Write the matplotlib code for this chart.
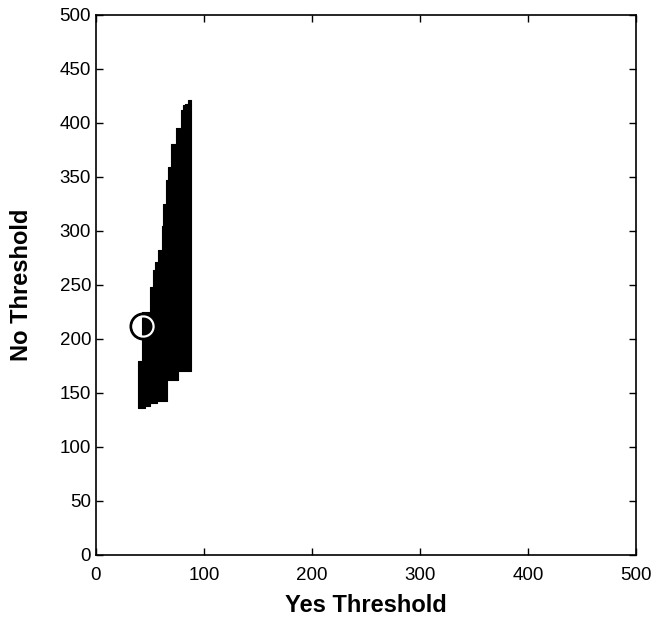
import matplotlib.pyplot as plt
import numpy as np

plt.rcParams['font.family'] = ['Liberation Sans', 'DejaVu Sans']

# Region of acceptable (Yes, No) threshold pairs, read column by column
yes_edges = [39, 43, 45.5, 50, 52.5, 54.5, 56.5, 57.5, 61, 62, 65, 65.5,
             67, 69.5, 74, 76, 79, 81, 82.5, 85, 88]
no_bottom = [136, 136, 138, 141, 141, 141, 143, 143, 143, 143, 143, 162,
             162, 162, 162, 170, 170, 170, 170, 170]
no_top = [180, 225, 225, 248, 264, 271, 271, 282, 305, 325, 347, 347,
          359, 381, 395, 395, 412, 417, 418, 421]

# chosen operating point
best_yes = 44
best_no = 212

fig = plt.figure(figsize=(6.56, 6.17), dpi=100)
ax = fig.add_axes([0.1463, 0.1005, 0.8232, 0.8752])

# repeat last value so the final step is drawn
lo = no_bottom + [no_bottom[-1]]
hi = no_top + [no_top[-1]]
ax.fill_between(yes_edges, lo, hi, step='post', color='black',
                linewidth=0.8, edgecolor='black')

ax.plot([best_yes], [best_no], 'o', markersize=18, markerfacecolor='none',
        markeredgecolor='black', markeredgewidth=2.2, zorder=4)
ax.plot([best_yes], [best_no], 'o', markersize=14.5, markerfacecolor='none',
        markeredgecolor='white', markeredgewidth=1.6, zorder=4)

ax.set_xlim(0, 500)
ax.set_ylim(0, 500)
ax.set_xticks(range(0, 501, 100))
ax.set_yticks(range(0, 501, 50))
ax.tick_params(direction='in', length=5, width=1, top=True, right=True,
               labelsize=13.5)
ax.tick_params(axis='x', pad=9)
for s in ax.spines.values():
    s.set_linewidth(1.2)

ax.set_xlabel('Yes Threshold', fontsize=17, fontweight='bold', labelpad=7)
ax.set_ylabel('No Threshold', fontsize=17, fontweight='bold', labelpad=19)

fig.savefig('out.png', dpi=100)
